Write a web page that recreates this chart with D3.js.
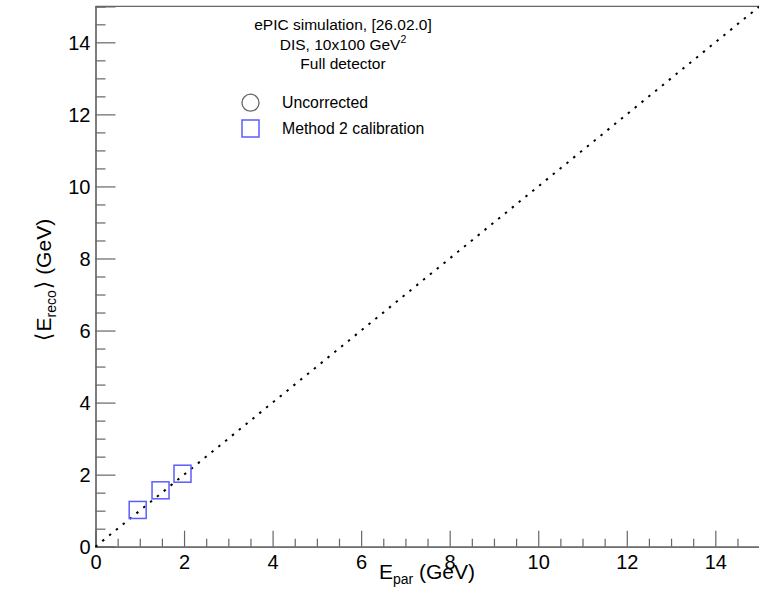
<!DOCTYPE html>
<html><head><meta charset="utf-8">
<script src="https://cdn.jsdelivr.net/npm/d3@7"></script>
<style>
body{margin:0;background:#fff;}
text{font-family:"Liberation Sans",Arial,Helvetica,sans-serif;}
</style></head>
<body><svg id="c" width="759" height="597"></svg>
<script>
// Data
const method2X = [0.953, 1.469, 1.965];
const method2Y = [1.02, 1.565, 2.026];
const uncorrectedX = [];
const uncorrectedY = [];
const majorTicks = [0, 2, 4, 6, 8, 10, 12, 14];
const headerLines = ["ePIC simulation, [26.02.0]", "DIS, 10x100 GeV", "Full detector"];
const legendLabels = ["Uncorrected", "Method 2 calibration"];

const svg = d3.select("#c");
const x = d3.scaleLinear().domain([0, 15]).range([95.5, 759.6]);
const y = d3.scaleLinear().domain([0, 15]).range([546.7, 6.3]);
const axisColor = "#666";
const minorTicks = d3.range(0, 15.01, 0.5).filter(v => v % 2 !== 0);

// frame top
svg.append("line").attr("x1", x(0)).attr("x2", 759).attr("y1", y(15)).attr("y2", y(15))
  .attr("stroke", axisColor).attr("stroke-width", 1.2);

// X axis
const gx = svg.append("g").attr("transform", `translate(0,${y(0)})`);
gx.call(d3.axisBottom(x).tickValues(majorTicks).tickSize(-16).tickFormat(d3.format("d")));
gx.append("g").call(d3.axisBottom(x).tickValues(minorTicks).tickSize(-8).tickFormat(""));
// Y axis
const gy = svg.append("g").attr("transform", `translate(${x(0)},0)`);
gy.call(d3.axisLeft(y).tickValues(majorTicks).tickSize(-20).tickFormat(d3.format("d")));
gy.append("g").call(d3.axisLeft(y).tickValues(minorTicks).tickSize(-10).tickFormat(""));
svg.selectAll(".domain").attr("stroke", axisColor).attr("stroke-width", 1.2);
svg.selectAll(".tick line").attr("stroke", axisColor).attr("stroke-width", 1.2);
svg.selectAll(".tick text").attr("fill", "#000").attr("font-size", 20)
  .attr("font-family", "'Liberation Sans',Arial,sans-serif");
gx.selectAll(".tick text").attr("y", 22).attr("dy", 0);
gy.selectAll(".tick text").attr("x", -5).attr("dy", "0.36em");

// diagonal y = x
svg.append("line").attr("x1", x(0)).attr("y1", y(0)).attr("x2", x(15)).attr("y2", y(15))
  .attr("stroke", "#000").attr("stroke-width", 2).attr("stroke-dasharray", "2.4,6.4");

// Method 2 points
const side = 17;
svg.selectAll(".m2").data(method2X.map((d, i) => [d, method2Y[i]])).enter().append("rect")
  .attr("x", d => x(d[0]) - side / 2).attr("y", d => y(d[1]) - side / 2)
  .attr("width", side).attr("height", side)
  .attr("fill", "none").attr("stroke", "#5c5cff").attr("stroke-width", 1.5);
// Uncorrected points
svg.selectAll(".unc").data(uncorrectedX.map((d, i) => [d, uncorrectedY[i]])).enter().append("circle")
  .attr("cx", d => x(d[0])).attr("cy", d => y(d[1])).attr("r", 8.5)
  .attr("fill", "none").attr("stroke", "#666").attr("stroke-width", 1.2);

// header text
const hb = [30, 50, 69.3];
headerLines.forEach((t, i) => {
  const tx = svg.append("text").attr("x", 343).attr("y", hb[i]).attr("text-anchor", "middle")
    .attr("font-size", 15.5).attr("fill", "#000");
  tx.append("tspan").text(t);
  if (i === 1) tx.append("tspan").attr("dy", -7).attr("font-size", 10.5).text("2");
});

// legend
svg.append("circle").attr("cx", 250.5).attr("cy", 102.7).attr("r", 8.5)
  .attr("fill", "none").attr("stroke", "#666").attr("stroke-width", 1.3);
svg.append("rect").attr("x", 242).attr("y", 120).attr("width", side).attr("height", side)
  .attr("fill", "none").attr("stroke", "#5c5cff").attr("stroke-width", 1.5);
svg.append("text").attr("x", 282).attr("y", 108.3).attr("font-size", 15.8).text(legendLabels[0]);
svg.append("text").attr("x", 282).attr("y", 133.6).attr("font-size", 15.8).text(legendLabels[1]);

// X title
const xt = svg.append("text").attr("x", 427).attr("y", 579).attr("text-anchor", "middle").attr("font-size", 21);
xt.append("tspan").text("E");
xt.append("tspan").attr("dy", 5).attr("font-size", 14).text("par");
xt.append("tspan").attr("dy", -5).text(" (GeV)");

// Y title
const yt = svg.append("text").attr("transform", "translate(51,280) rotate(-90)")
  .attr("text-anchor", "middle").attr("font-size", 21);
yt.append("tspan").attr("font-family", "DejaVu Sans").attr("font-size", 22).text("\u27E8");
yt.append("tspan").attr("dx", 1).text("E");
yt.append("tspan").attr("dy", 5).attr("font-size", 14).text("reco");
yt.append("tspan").attr("dy", -5).attr("dx", 1).attr("font-family", "DejaVu Sans").attr("font-size", 22).text("\u27E9");
yt.append("tspan").text(" (GeV)");
</script></body></html>
